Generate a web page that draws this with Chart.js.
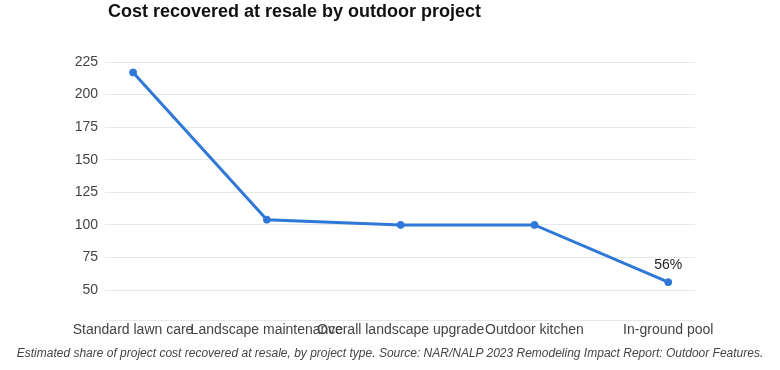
<!DOCTYPE html>
<html>
<head>
<meta charset="utf-8">
<script src="https://cdn.jsdelivr.net/npm/chart.js@4"></script>
<style>
  html, body { margin: 0; padding: 0; background: #fff; }
  #wrap { position: relative; width: 780px; height: 370px; font-family: "Liberation Sans", Arial, sans-serif; }
  #title { position: absolute; left: 108px; top: 1px; font-size: 18px; font-weight: bold; color: #111; white-space: nowrap; }
  #caption { position: absolute; left: 0; width: 780px; top: 346px; text-align: center; font-size: 12px; font-style: italic; color: #444; white-space: nowrap; }
  canvas { position: absolute; left: 0; top: 0; }
</style>
</head>
<body>
<div id="wrap">
  <canvas id="chart" width="780" height="370"></canvas>
  <div id="title">Cost recovered at resale by outdoor project</div>
  <div id="caption">Estimated share of project cost recovered at resale, by project type. Source: NAR/NALP 2023 Remodeling Impact Report: Outdoor Features.</div>
</div>
<script>
// --- DATA ---
const projects = ['Standard lawn care', 'Landscape maintenance', 'Overall landscape upgrade', 'Outdoor kitchen', 'In-ground pool'];
const costRecovered = [217, 104, 100, 100, 56];
const yTicks = [50, 75, 100, 125, 150, 175, 200, 225];
const labelledPoints = [4]; // only the pool point carries a value label

// --- CONFIG ---
const LINE_COLOR = '#2f78d8';
const TEXT_COLOR = '#444';

// small plugin for the "56%" label
const pointLabels = {
    id: 'pointLabels',
    afterDatasetsDraw(chart) {
        const ctx = chart.ctx;
        const meta = chart.getDatasetMeta(0);
        ctx.save();
        ctx.font = '14px "Liberation Sans", Arial, sans-serif';
        ctx.fillStyle = '#222';
        ctx.textAlign = 'center';
        ctx.textBaseline = 'bottom';
        labelledPoints.forEach(i => {
            const pt = meta.data[i];
            ctx.fillText(costRecovered[i] + '%', pt.x, pt.y - 10);
        });
        ctx.restore();
    }
};

new Chart(document.getElementById('chart'), {
    type: 'line',
    data: {
        datasets: [{
            data: costRecovered.map((v, i) => ({ x: i, y: v })),
            borderColor: LINE_COLOR,
            backgroundColor: LINE_COLOR,
            borderWidth: 3,
            pointRadius: 3.5,
            pointBorderWidth: 1,
            pointHoverRadius: 3.5,
            tension: 0,
            fill: false
        }]
    },
    options: {
        responsive: false,
        animation: false,
        layout: { padding: { top: 62, right: 85, bottom: 28, left: 0 } },
        plugins: { legend: { display: false }, tooltip: { enabled: false } },
        scales: {
            x: {
                type: 'linear',
                min: -0.21,
                max: 4.2,
                afterBuildTicks: (scale) => { scale.ticks = projects.map((_, i) => ({ value: i })); },
                afterFit: (scale) => { scale.height = 22; },
                grid: { display: false, drawTicks: false },
                border: { display: false },
                ticks: {
                    autoSkip: false,
                    maxRotation: 0,
                    padding: 2,
                    color: TEXT_COLOR,
                    font: { size: 14, family: '"Liberation Sans", Arial, sans-serif' },
                    callback: (v) => projects[v]
                }
            },
            y: {
                min: 27,
                max: 225,
                afterBuildTicks: (scale) => { scale.ticks = [{ value: 27 }].concat(yTicks.map(v => ({ value: v }))); },
                afterFit: (scale) => { scale.width = 105; },
                grid: { color: '#e8e8e3', drawTicks: false },
                border: { display: false },
                ticks: {
                    padding: 7,
                    color: TEXT_COLOR,
                    font: { size: 14, family: '"Liberation Sans", Arial, sans-serif' },
                    callback: (v) => yTicks.includes(v) ? v : ''
                }
            }
        }
    },
    plugins: [pointLabels]
});
</script>
</body>
</html>
